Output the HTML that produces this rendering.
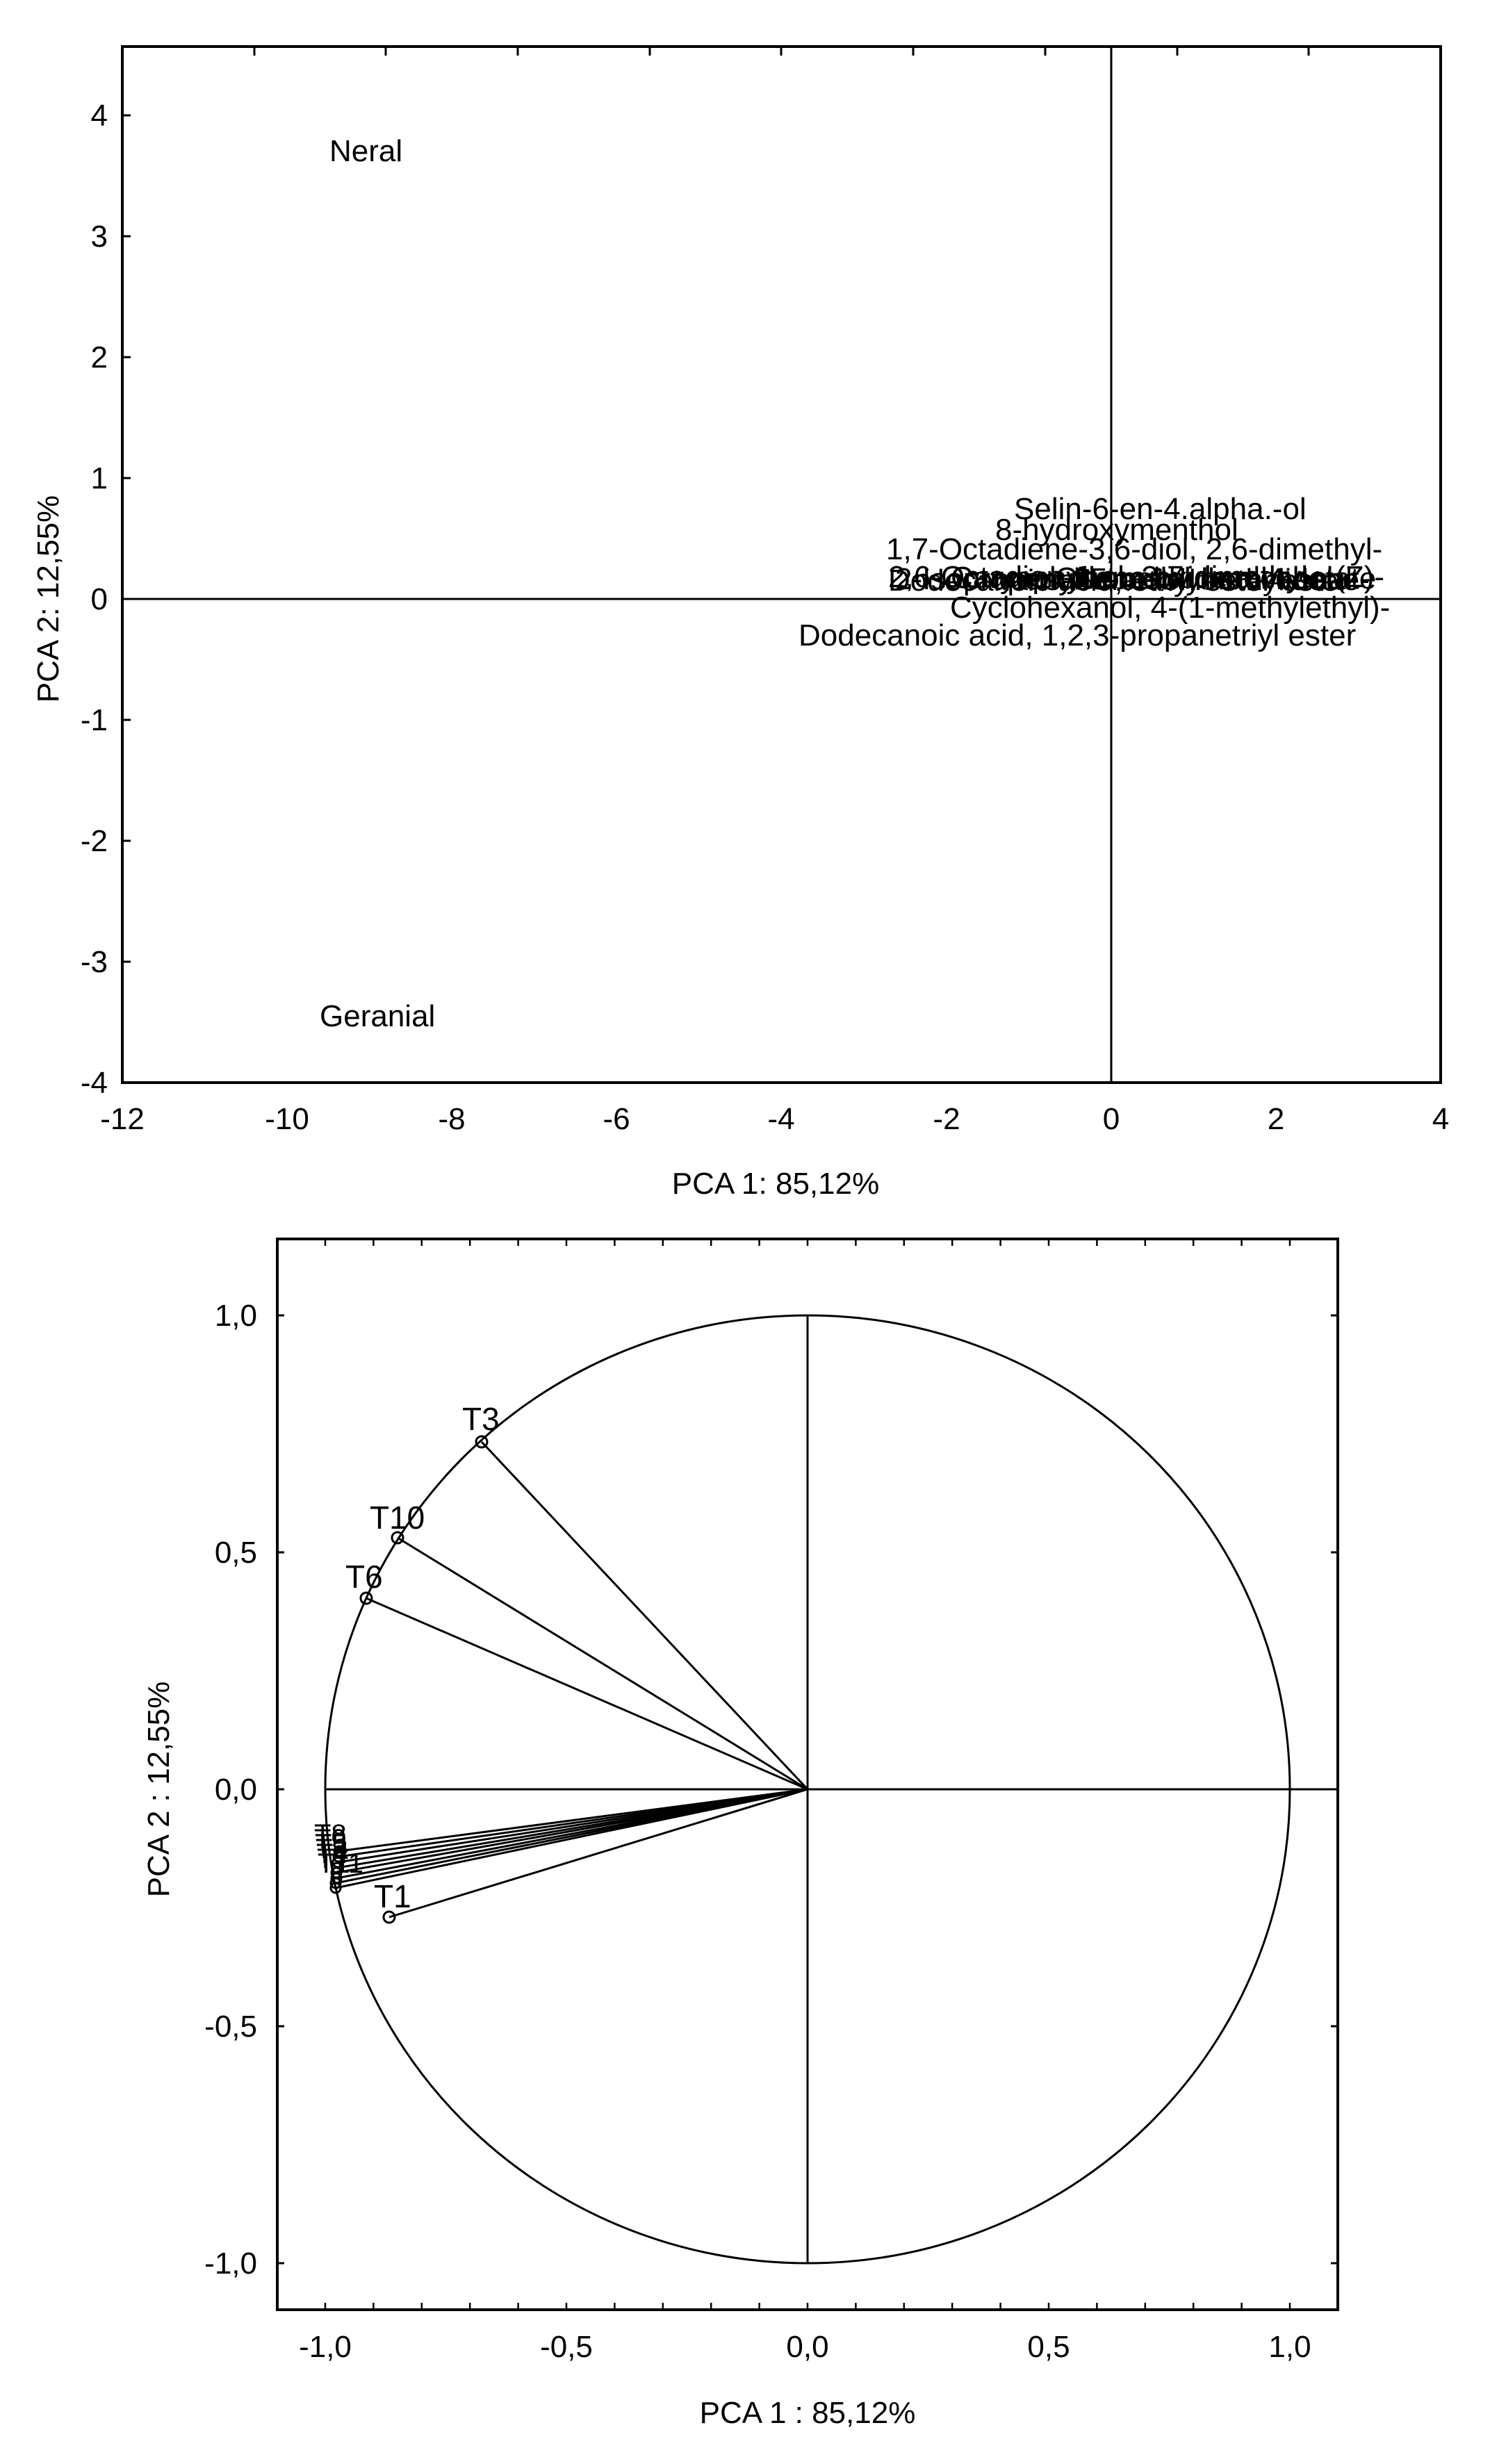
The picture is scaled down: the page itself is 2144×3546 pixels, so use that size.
<!DOCTYPE html>
<html><head><meta charset="utf-8"><style>
html,body{margin:0;padding:0;background:#fff}
svg{display:block}
text{font-family:"Liberation Sans",Arial,sans-serif;fill:#000}
</style></head><body>
<svg width="2144" height="3546" viewBox="0 0 2144 3546" xmlns="http://www.w3.org/2000/svg">
<!-- TOP PLOT -->
<rect x="176" y="67" width="1897" height="1491" fill="none" stroke="#000" stroke-width="4"/>
<g stroke="#000" stroke-width="3">
<line x1="176" y1="862" x2="2073" y2="862"/>
<line x1="1599" y1="67" x2="1599" y2="1558"/>
</g>
<g stroke="#000" stroke-width="3">
<line x1="176" y1="166" x2="188" y2="166"/><line x1="176" y1="340" x2="188" y2="340"/>
<line x1="176" y1="514" x2="188" y2="514"/><line x1="176" y1="688" x2="188" y2="688"/>
<line x1="176" y1="1036" x2="188" y2="1036"/><line x1="176" y1="1210" x2="188" y2="1210"/>
<line x1="176" y1="1384" x2="188" y2="1384"/>
<line x1="366" y1="67" x2="366" y2="80"/><line x1="555" y1="67" x2="555" y2="80"/>
<line x1="745" y1="67" x2="745" y2="80"/><line x1="935" y1="67" x2="935" y2="80"/>
<line x1="1124" y1="67" x2="1124" y2="80"/><line x1="1314" y1="67" x2="1314" y2="80"/>
<line x1="1504" y1="67" x2="1504" y2="80"/><line x1="1694" y1="67" x2="1694" y2="80"/>
<line x1="1883" y1="67" x2="1883" y2="80"/>
</g>
<g font-size="44" text-anchor="end">
<text x="155" y="181">4</text><text x="155" y="355">3</text><text x="155" y="529">2</text>
<text x="155" y="703">1</text><text x="155" y="877">0</text><text x="155" y="1051">-1</text>
<text x="155" y="1225">-2</text><text x="155" y="1399">-3</text><text x="155" y="1573">-4</text>
</g>
<g font-size="44" text-anchor="middle">
<text x="176" y="1625">-12</text><text x="413" y="1625">-10</text><text x="650" y="1625">-8</text>
<text x="887" y="1625">-6</text><text x="1124" y="1625">-4</text><text x="1362" y="1625">-2</text>
<text x="1599" y="1625">0</text><text x="1836" y="1625">2</text><text x="2073" y="1625">4</text>
<text x="1116" y="1718">PCA 1: 85,12%</text>
</g>
<text font-size="44" text-anchor="middle" transform="translate(84,862) rotate(-90)">PCA 2: 12,55%</text>
<g font-size="44">
<text x="474" y="232">Neral</text>
<text x="460" y="1477">Geranial</text>
<text x="1459" y="747">Selin-6-en-4.alpha.-ol</text>
<text x="1432" y="777">8-hydroxymenthol</text>
<text x="1275" y="805">1,7-Octadiene-3,6-diol, 2,6-dimethyl-</text>
<text x="1278" y="845">2,6-Octadien-1-ol, 3,7-dimethyl-, (Z)-</text>
<text x="1278" y="850">Dodecanoic acid, ethyl ester ester</text>
<text x="1288" y="848">2-Isopropenyl-5-methylhex-4-enal</text>
<text x="1368" y="846">Caryophyllene oxide alcohol</text>
<text x="1428" y="849">trans-Geraniol methylidene-</text>
<text x="1518" y="847">Citronellal nerol acetate</text>
<text x="1367" y="889">Cyclohexanol, 4-(1-methylethyl)-</text>
<text x="1149" y="929">Dodecanoic acid, 1,2,3-propanetriyl ester</text>
</g>
<!-- BOTTOM PLOT -->
<rect x="399" y="1783" width="1526" height="1541" fill="none" stroke="#000" stroke-width="4"/>
<ellipse cx="1162" cy="2575" rx="694" ry="682" fill="none" stroke="#000" stroke-width="3"/>
<g stroke="#000" stroke-width="3">
<line x1="468" y1="2575" x2="1925" y2="2575"/>
<line x1="1162" y1="1893" x2="1162" y2="3257"/>
</g>
<g stroke="#000" stroke-width="3">
<line x1="399" y1="1893" x2="409" y2="1893"/><line x1="399" y1="2234" x2="409" y2="2234"/>
<line x1="399" y1="2575" x2="409" y2="2575"/><line x1="399" y1="2916" x2="409" y2="2916"/>
<line x1="399" y1="3257" x2="409" y2="3257"/>
<line x1="1915" y1="1893" x2="1925" y2="1893"/><line x1="1915" y1="2234" x2="1925" y2="2234"/>
<line x1="1915" y1="2575" x2="1925" y2="2575"/><line x1="1915" y1="2916" x2="1925" y2="2916"/>
<line x1="1915" y1="3257" x2="1925" y2="3257"/>
</g>
<g stroke="#000" stroke-width="2.5">
<path d="M468.0 3324v-10M537.4 3324v-10M606.8 3324v-10M676.2 3324v-10M745.6 3324v-10M815.0 3324v-10M884.4 3324v-10M953.8 3324v-10M1023.2 3324v-10M1092.6 3324v-10M1162 3324v-10M1231.4 3324v-10M1300.8 3324v-10M1370.2 3324v-10M1439.6 3324v-10M1509 3324v-10M1578.4 3324v-10M1647.8 3324v-10M1717.2 3324v-10M1786.6 3324v-10M1856 3324v-10"/>
<path d="M468.0 1783v10M537.4 1783v10M606.8 1783v10M676.2 1783v10M745.6 1783v10M815.0 1783v10M884.4 1783v10M953.8 1783v10M1023.2 1783v10M1092.6 1783v10M1162 1783v10M1231.4 1783v10M1300.8 1783v10M1370.2 1783v10M1439.6 1783v10M1509 1783v10M1578.4 1783v10M1647.8 1783v10M1717.2 1783v10M1786.6 1783v10M1856 1783v10"/>
</g>
<g stroke="#000" stroke-width="3" fill="none">
<line x1="1162" y1="2575" x2="693" y2="2075"/>
<line x1="1162" y1="2575" x2="572" y2="2213"/>
<line x1="1162" y1="2575" x2="527" y2="2300"/>
<line x1="1162" y1="2575" x2="560" y2="2759"/>
<line x1="1162" y1="2575" x2="488" y2="2664"/>
<line x1="1162" y1="2575" x2="487" y2="2672"/>
<line x1="1162" y1="2575" x2="486" y2="2680"/>
<line x1="1162" y1="2575" x2="485" y2="2688"/>
<line x1="1162" y1="2575" x2="484" y2="2695"/>
<line x1="1162" y1="2575" x2="484" y2="2703"/>
<line x1="1162" y1="2575" x2="483" y2="2710"/>
<line x1="1162" y1="2575" x2="483" y2="2717"/>
<circle cx="693" cy="2075" r="8"/><circle cx="572" cy="2213" r="8"/>
<circle cx="527" cy="2300" r="8"/><circle cx="560" cy="2759" r="8"/>
<circle cx="488" cy="2664" r="7"/><circle cx="487" cy="2672" r="7"/>
<circle cx="486" cy="2680" r="7"/><circle cx="485" cy="2688" r="7"/>
<circle cx="484" cy="2695" r="7"/><circle cx="484" cy="2703" r="7"/>
<circle cx="483" cy="2710" r="7"/><circle cx="483" cy="2717" r="7"/>
</g>
<g font-size="46">
<text x="665" y="2058">T3</text>
<text x="532" y="2200">T10</text>
<text x="497" y="2285">T6</text>
<text x="538" y="2745">T1</text>
</g>
<g font-size="40">
<text x="452" y="2653">T8</text><text x="452" y="2660">T9</text><text x="453" y="2667">T5</text>
<text x="454" y="2674">T2</text><text x="455" y="2681">T4</text><text x="456" y="2688">T7</text>
<text x="457" y="2695">T11</text>
</g>
<g font-size="44" text-anchor="end">
<text x="370" y="1908">1,0</text><text x="370" y="2249">0,5</text><text x="370" y="2590">0,0</text>
<text x="370" y="2931">-0,5</text><text x="370" y="3272">-1,0</text>
</g>
<g font-size="44" text-anchor="middle">
<text x="468" y="3392">-1,0</text><text x="815" y="3392">-0,5</text><text x="1162" y="3392">0,0</text>
<text x="1509" y="3392">0,5</text><text x="1856" y="3392">1,0</text>
<text x="1162" y="3487">PCA 1 : 85,12%</text>
</g>
<text font-size="44" text-anchor="middle" transform="translate(243,2575) rotate(-90)">PCA 2 : 12,55%</text>
</svg>
</body></html>
